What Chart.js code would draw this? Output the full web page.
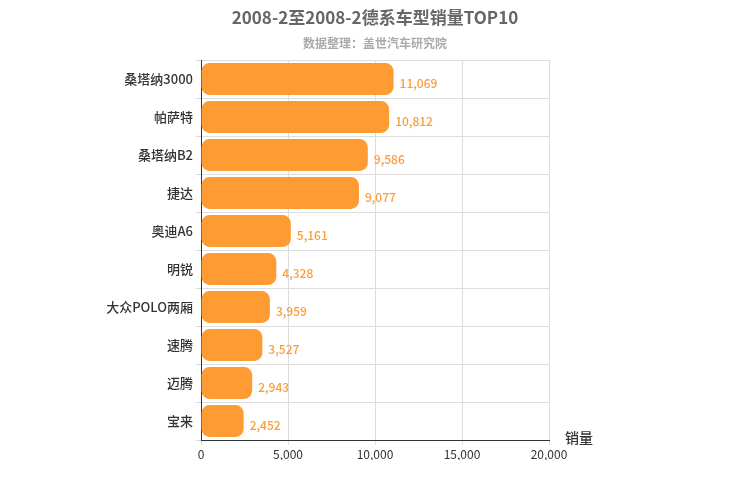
<!DOCTYPE html>
<html>
<head>
<meta charset="utf-8">
<script src="https://cdn.jsdelivr.net/npm/chart.js@4/dist/chart.umd.min.js"></script>
<style>
  html, body { margin: 0; padding: 0; background: #fff; }
  #wrap { width: 750px; height: 500px; }
</style>
</head>
<body>
<div id="wrap"><canvas id="chart"></canvas></div>
<script>
// ===== Data =====
const models = ['桑塔纳3000', '帕萨特', '桑塔纳B2', '捷达', '奥迪A6', '明锐', '大众POLO两厢', '速腾', '迈腾', '宝来'];
const sales = [11069, 10812, 9586, 9077, 5161, 4328, 3959, 3527, 2943, 2452];
const xTicks = [0, 5000, 10000, 15000, 20000];

const FONT = '"Noto Sans CJK SC", "Noto Sans", sans-serif';
const ORANGE = '#ff9b33';

// titles, value labels at bar ends, axis name
const labelPlugin = {
  id: 'labels',
  afterDatasetsDraw(c) {
    const ctx = c.ctx;
    const meta = c.getDatasetMeta(0);
    ctx.save();
    ctx.textAlign = 'center';
    ctx.textBaseline = 'middle';
    ctx.font = 'bold 17px ' + FONT;
    ctx.fillStyle = '#666';
    ctx.fillText('2008-2至2008-2德系车型销量TOP10', 375, 18);
    ctx.font = 'bold 12px ' + FONT;
    ctx.fillStyle = '#aaa';
    ctx.fillText('数据整理：盖世汽车研究院', 375, 43);

    ctx.textAlign = 'left';
    ctx.font = '500 12px ' + FONT;
    ctx.fillStyle = ORANGE;
    meta.data.forEach((bar, i) => {
      ctx.fillText(sales[i].toLocaleString('en-US'), bar.x + 6, bar.y + 4);
    });
    const xs = c.scales.x;
    ctx.font = '500 14px ' + FONT;
    ctx.fillStyle = '#333';
    ctx.fillText('销量', xs.right + 16, xs.top - 2);
    ctx.restore();
  }
};

new Chart(document.getElementById('chart'), {
  type: 'bar',
  data: {
    labels: models,
    datasets: [{
      data: sales,
      backgroundColor: ORANGE,
      borderRadius: 8,
      borderSkipped: false,
      barPercentage: 0.84,
      categoryPercentage: 1.0
    }]
  },
  options: {
    indexAxis: 'y',
    responsive: true,
    maintainAspectRatio: false,
    animation: false,
    layout: { padding: { left: 0, right: 201, top: 60, bottom: 40 } },
    scales: {
      x: {
        min: 0, max: 20000,
        afterBuildTicks: (s) => { s.ticks = xTicks.map((v) => ({ value: v })); },
        afterFit: (s) => { s.height = 20; },
        ticks: { font: { size: 12, family: FONT }, color: '#333', padding: 2, callback: (v) => v.toLocaleString('en-US') },
        grid: { color: '#ddd', drawTicks: true, tickLength: 5 },
        border: { color: '#333' }
      },
      y: {
        afterFit: (s) => { s.width = 201; },
        ticks: { font: { size: 13, weight: '500', family: FONT }, color: '#333' },
        grid: { color: '#ddd', offset: true, tickLength: 5 },
        border: { color: '#333' }
      }
    },
    plugins: {
      legend: { display: false },
      tooltip: { enabled: false }
    }
  },
  plugins: [labelPlugin]
});
</script>
</body>
</html>
